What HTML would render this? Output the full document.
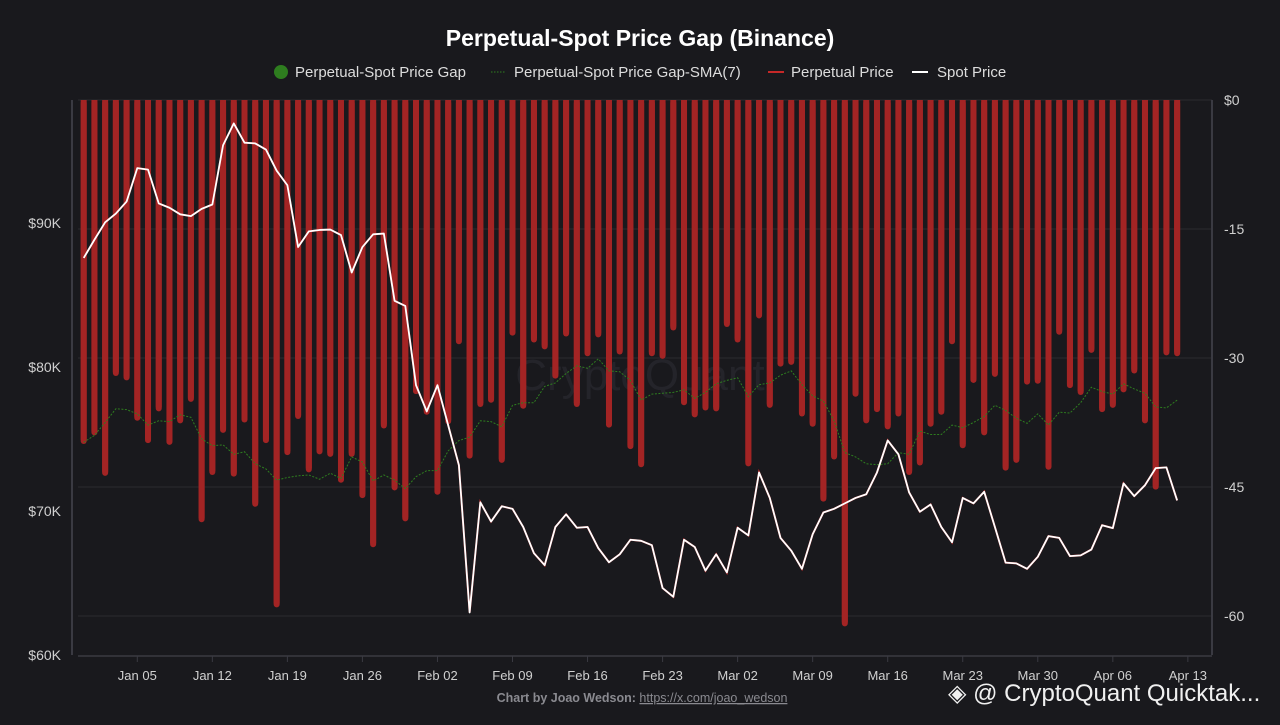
<!DOCTYPE html>
<html><head><meta charset="utf-8"><style>
body{margin:0;background:#19191d;width:1280px;height:720px;overflow:hidden;font-family:"Liberation Sans",sans-serif}
svg text{font-family:"Liberation Sans",sans-serif}
</style></head><body>
<svg id="c" width="1280" height="720" xmlns="http://www.w3.org/2000/svg">
<rect width="1280" height="720" fill="#19191d"/>
<text x="640" y="46" text-anchor="middle" fill="#fff" font-size="23" font-weight="bold">Perpetual-Spot Price Gap (Binance)</text>
<g font-size="15" fill="#ddd">
<g><circle cx="281" cy="72" r="7" fill="#2e7d1f"/><text x="295" y="77">Perpetual-Spot Price Gap</text></g>
<g><line x1="491" y1="72" x2="506" y2="72" stroke="#2e7d1f" stroke-dasharray="1.5,1.5"/><text x="514" y="77">Perpetual-Spot Price Gap-SMA(7)</text></g>
<g><line x1="768" y1="72" x2="784" y2="72" stroke="#c62828" stroke-width="2"/><text x="791" y="77">Perpetual Price</text></g>
<g><line x1="912" y1="72" x2="928" y2="72" stroke="#fff" stroke-width="2"/><text x="937" y="77">Spot Price</text></g>
</g>
<text x="640" y="390" text-anchor="middle" fill="#24242a" font-size="44">CryptoQuant</text>
<g id="grid"></g><g id="bars"></g><g id="lines"></g><g id="axes"></g>
<text x="642" y="702" text-anchor="middle" fill="#8a8a90" font-size="12.5" font-weight="bold">Chart by Joao Wedson: <tspan font-weight="normal" text-decoration="underline">https://x.com/joao_wedson</tspan></text>
<text x="948" y="701" fill="#f0f0f0" font-size="24">◈ @ CryptoQuant Quicktak...</text>
</svg>
<script>
const gaps=[40.0,39.0,43.7,32.1,32.6,37.3,39.9,36.2,40.1,37.6,35.1,49.1,43.6,38.7,43.8,37.5,47.3,39.9,59.0,41.3,37.1,43.3,41.2,41.5,44.5,41.5,
46.3,52.0,38.2,45.4,49.0,34.2,36.6,45.9,37.7,28.4,41.7,35.7,35.2,42.2,27.4,35.9,28.2,29.0,32.4,27.5,35.7,29.8,27.6,38.1,29.6,40.6,
42.7,29.8,30.1,26.8,35.5,36.9,36.1,36.2,26.4,28.2,42.6,25.4,35.8,31.0,30.8,36.8,38.0,46.7,41.8,61.2,34.5,37.6,36.3,38.3,36.8,43.6,
42.5,38.0,36.6,28.4,40.5,32.9,39.0,32.2,43.1,42.2,33.1,33.0,43.0,27.3,33.5,34.3,29.4,36.3,35.8,34.0,31.8,37.6,45.3,29.7,29.8].map(v=>-v);
const sma=[39.8,39.0,37.5,35.9,36.0,36.5,37.8,37.3,37.4,36.6,36.9,39.4,40.2,40.1,41.2,40.9,42.3,42.9,44.2,43.9,43.7,43.6,44.1,43.4,44.0,41.5,
42.1,44.3,43.6,44.2,45.2,43.8,43.1,43.1,40.8,39.6,39.2,37.3,37.4,38.0,35.5,35.2,35.2,33.3,32.9,31.8,30.9,31.2,30.1,31.5,31.6,32.6,
34.9,34.2,34.1,34.0,33.7,34.7,34.0,33.0,32.6,32.3,34.5,33.1,32.9,32.0,31.5,33.1,34.4,35.0,37.3,41.0,41.5,42.3,42.4,42.3,41.0,41.2,
38.5,38.9,38.9,37.8,38.1,37.5,36.8,35.5,36.1,37.0,37.6,36.5,37.8,36.3,36.4,35.2,33.4,33.9,34.2,33.0,33.6,34.1,35.7,35.8,34.9].map(v=>-v);
const spot=[87573,88836,90048,90654,91487,93810,93709,91361,91058,90603,90477,90982,91285,95401,96916,95577,95527,95098,93633,92623,88331,89416,89517,89543,89164,86563,
88331,89214,89265,84593,84240,78736,76918,78736,75958,73181,62955,70605,69267,70327,70151,68888,67070,66237,68888,69772,68838,68888,67424,66439,66994,68004,
67929,67626,64646,64040,68004,67499,65858,66994,65732,68838,68307,72676,70908,68131,67247,65984,68383,69898,70151,70530,70908,71161,72676,74898,73938,71287,
69949,70454,68888,67828,70908,70530,71337,68888,66414,66363,65984,66818,68257,68131,66868,66919,67323,69014,68812,71918,71034,71792,72979,73029,70732];
const xTickLabels=["Jan 05","Jan 12","Jan 19","Jan 26","Feb 02","Feb 09","Feb 16","Feb 23","Mar 02","Mar 09","Mar 16","Mar 23","Mar 30","Apr 06","Apr 13"];
const xTickDays=[5,12,19,26,33,40,47,54,61,68,75,82,89,96,103];
const leftTicks=[60000,70000,80000,90000];
const leftTickLabels=["$60K","$70K","$80K","$90K"];
const rightTicks=[0,-15,-30,-45,-60];
const rightTickLabels=["$0","-15","-30","-45","-60"];
const NS="http://www.w3.org/2000/svg";
const X=i=>83.7+i*10.72;
const YL=p=>655-(p-60000)*0.0144;
const YR=g=>100-g*8.6;
function mk(t,a,p){const e=document.createElementNS(NS,t);for(const k in a)e.setAttribute(k,a[k]);p.appendChild(e);return e;}
const G=document.getElementById('grid'),B=document.getElementById('bars'),L=document.getElementById('lines'),A=document.getElementById('axes');
rightTicks.forEach((t,i)=>{
 const l=mk('line',{x1:78,x2:1212,y1:YR(t),y2:YR(t),stroke:'#2a2a30','stroke-width':1},G);
 
 
 const tx=mk('text',{x:1224,y:YR(t)+5,fill:'#d0d0d0','font-size':14},A);tx.textContent=rightTickLabels[i];
 
 
});
leftTicks.forEach((t,i)=>{
 const tx=mk('text',{x:61,y:YL(t)+5,fill:'#d0d0d0','font-size':14,'text-anchor':'end'},A);tx.textContent=leftTickLabels[i];
 
 
});
let ax=mk('line',{x1:72,x2:72,y1:100,y2:655,stroke:'#3a3a42','stroke-width':2},A);


ax=mk('line',{x1:1212,x2:1212,y1:100,y2:655,stroke:'#3a3a42','stroke-width':2},A);


ax=mk('line',{x1:78,x2:1212,y1:656,y2:656,stroke:'#3a3a42','stroke-width':1.5},A);


xTickDays.forEach((d,i)=>{
 const x=X(d-1)+(137.3-X(4));
 mk('line',{x1:x,x2:x,y1:656,y2:662,stroke:'#3a3a42'},A);
 const tx=mk('text',{x:x,y:680,fill:'#d0d0d0','font-size':13,'text-anchor':'middle'},A);tx.textContent=xTickLabels[i];
 
 
});
gaps.forEach((g,i)=>{
 const y0=YR(0),y1=YR(g);
 const r=mk('rect',{x:X(i)-3,y:y0,width:6,height:Math.max(0,y1-y0),rx:3,fill:'#a32424'},B);
 
 
 mk('rect',{x:X(i)-3,y:y0,width:6,height:Math.max(0,y1-y0-4),fill:'#a32424'},B);
});
const sp=mk('polyline',{points:sma.map((v,i)=>X(i)+','+YR(v)).join(' '),fill:'none',stroke:'#2e7d1f','stroke-width':1,'stroke-dasharray':'2,1.5'},L);


const pp=mk('polyline',{points:spot.map((v,i)=>X(i)+','+YL(v)).join(' '),fill:'none',stroke:'#c62828','stroke-width':2},L);


const wp=mk('polyline',{points:spot.map((v,i)=>X(i)+','+YL(v)).join(' '),fill:'none',stroke:'#ffffff','stroke-width':1.8,'stroke-linejoin':'round'},L);


</script>
</body></html>
